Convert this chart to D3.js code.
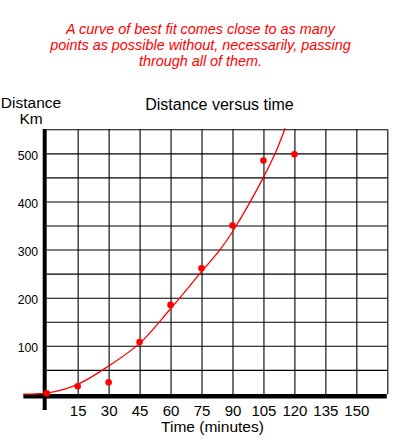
<!DOCTYPE html>
<html>
<head>
<meta charset="utf-8">
<script src="https://cdn.jsdelivr.net/npm/d3@7"></script>
<style>
  body { margin: 0; background: #fff; }
  text { font-family: "Liberation Sans", Arial, sans-serif; }
</style>
</head>
<body>
<script>
// measured points (time in minutes, distance in km)
const times = [0, 15, 30, 45, 60, 75, 90, 105, 120];
const distances = [1, 16, 24, 108, 185, 261, 350, 485, 498];

// hand drawn curve of best fit
const curveTimes = [-11.3, -5, 0, 15, 30, 45, 60, 75, 84, 90, 105, 111.4, 115.5];
const curveDistances = [-0.5, 0.2, 1.5, 20, 58, 105, 177, 254, 300, 337, 450, 507, 552];

const xGrid = [15, 30, 45, 60, 75, 90, 105, 120, 135, 150, 165];
const xLabels = [15, 30, 45, 60, 75, 90, 105, 120, 135, 150];
const yGrid = [50, 100, 150, 200, 250, 300, 350, 400, 450, 500, 550];
const yLabels = [100, 200, 300, 400, 500];

const caption = [
  "A curve of best fit comes close to as many",
  "points as possible without, necessarily, passing",
  "through all of them."
];

const w = 397;
const h = 441;

const x = d3.scaleLinear().domain([0, 165]).range([46.7, 387.3]);
const y = d3.scaleLinear().domain([0, 550]).range([393.9, 129.3]);

const svg = d3.select("body")
  .append("svg")
  .attr("width", w)
  .attr("height", h);

// caption in red italics
svg.selectAll("text.caption")
  .data(caption)
  .join("text")
  .attr("class", "caption")
  .attr("x", 200.5)
  .attr("y", (d, i) => 33.5 + i * 16)
  .attr("text-anchor", "middle")
  .style("font-size", "14.4px")
  .style("font-style", "italic")
  .style("fill", "#ff0000")
  .text(d => d);

svg.append("text")
  .attr("x", 219.5)
  .attr("y", 110)
  .attr("text-anchor", "middle")
  .style("font-size", "16px")
  .text("Distance versus time");

svg.append("text")
  .attr("x", 31)
  .attr("y", 108)
  .attr("text-anchor", "middle")
  .style("font-size", "15.5px")
  .text("Distance");

svg.append("text")
  .attr("x", 31)
  .attr("y", 123.5)
  .attr("text-anchor", "middle")
  .style("font-size", "15.5px")
  .text("Km");

// grid + tick labels through the axes
const xAxis = svg.append("g")
  .attr("transform", `translate(0,${y(0)})`)
  .call(d3.axisBottom(x)
    .tickValues(xGrid)
    .tickSize(-(y(0) - y(550)))
    .tickPadding(11.5)
    .tickFormat(d => xLabels.includes(d) ? d : ""));

xAxis.select(".domain").remove();
xAxis.selectAll("line").attr("stroke", "#000").attr("stroke-width", 1.1);
xAxis.selectAll("text")
  .style("font-size", "15px")
  .style("font-family", '"Liberation Sans", Arial, sans-serif')
  .attr("fill", "#000");

const yAxis = svg.append("g")
  .attr("transform", `translate(${x(0)},0)`)
  .call(d3.axisLeft(y)
    .tickValues(yGrid)
    .tickSize(-(x(165) - x(0)))
    .tickPadding(8.5)
    .tickFormat(d => yLabels.includes(d) ? d : ""));

yAxis.select(".domain").remove();
yAxis.selectAll("line").attr("stroke", "#000").attr("stroke-width", 1.1);
yAxis.selectAll("text")
  .attr("dy", "0.5em")
  .style("font-size", "12.3px")
  .style("font-family", '"Liberation Sans", Arial, sans-serif')
  .attr("fill", "#000");

svg.append("text")
  .attr("x", 212.5)
  .attr("y", 432)
  .attr("text-anchor", "middle")
  .style("font-size", "15.5px")
  .text("Time (minutes)");

// thick axes
svg.append("line")
  .attr("x1", x(-11.3)).attr("x2", x(165) - 0.5)
  .attr("y1", y(0) + 2.3).attr("y2", y(0) + 2.3)
  .attr("stroke", "#000")
  .attr("stroke-width", 4.6);

svg.append("line")
  .attr("x1", x(0) - 2).attr("x2", x(0) - 2)
  .attr("y1", y(550) - 0.3).attr("y2", 410)
  .attr("stroke", "#000")
  .attr("stroke-width", 4);

// curve of best fit
const line = d3.line()
  .x((d, i) => x(curveTimes[i]))
  .y(d => y(d))
  .curve(d3.curveCatmullRom.alpha(0.5));

svg.append("path")
  .attr("d", line(curveDistances))
  .attr("fill", "none")
  .attr("stroke", "#ff0000")
  .attr("stroke-width", 1.3);

svg.selectAll("circle")
  .data(distances)
  .join("circle")
  .attr("cx", (d, i) => x(times[i]))
  .attr("cy", d => y(d))
  .attr("r", 3.3)
  .style("fill", "#ff0000");
</script>
</body>
</html>
